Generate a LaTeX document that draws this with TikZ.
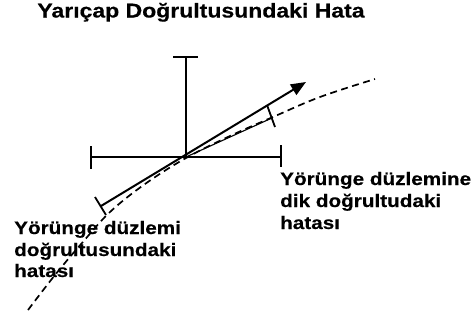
\documentclass[tikz,border=0pt]{standalone}
\usepackage{fontspec}
\newfontfamily\lab[FakeStretch=1.15,BoldFeatures={FakeBold=0.4}]{Liberation Sans}
\usetikzlibrary{arrows.meta}
\begin{document}
\begin{tikzpicture}[x=1pt,y=-1pt,
  axis/.style={line width=2pt},
  vec/.style={line width=2pt},
  tickmark/.style={line width=1.8pt},
  orbit/.style={line width=1.7pt,dash pattern=on 7pt off 4.5pt},
  chord/.style={line width=1.1pt},
  txt/.style={font=\lab\bfseries\fontsize{18}{21.6}\selectfont,inner sep=0pt,anchor=base west},
  ttl/.style={font=\lab\bfseries\fontsize{20}{24}\selectfont,inner sep=0pt,anchor=base}]
\useasboundingbox (0,0) rectangle (475,322);
% axes
\coordinate (O) at (186,157);
\coordinate (vt) at (186,57);
\coordinate (vtl) at (173,57);
\coordinate (vtr) at (198,57);
\coordinate (hl) at (91,157);
\coordinate (hr) at (281,157);
\coordinate (hlu) at (91,146);
\coordinate (hld) at (91,169);
\coordinate (hru) at (281,145);
\coordinate (hrd) at (281,167);
\draw[axis] (O) -- (vt);
\draw[axis] (vtl) -- (vtr);
\draw[axis] (hl) -- (hr);
\draw[axis] (hlu) -- (hld);
\draw[axis] (hru) -- (hrd);
% orbit (dashed curve)
\draw[orbit] plot[smooth,tension=0.6] coordinates {(28,310) (55,275) (82,243) (110,212) (145,184) (186,158) (230,136) (273,117) (320,97) (375,79)};
% solid vector with arrow
\coordinate (A) at (101,206);
\coordinate (T) at (306,82);
\draw[vec,-{Triangle[length=15pt,width=12pt]}] (A) -- (T);
% ticks
\coordinate (t1a) at (95,197);
\coordinate (t1b) at (106,215);
\draw[tickmark] (t1a) -- (t1b);
\coordinate (t2a) at (267,105);
\coordinate (t2b) at (275,127);
\draw[tickmark] (t2a) -- (t2b);
% chord from centre to orbit point
\coordinate (P) at (272,118);
\draw[chord] (O) -- (P);
% texts
\node[ttl] (title) at (201,17.5) {Yarıçap Doğrultusundaki Hata};
\node[txt] (r1) at (280,185) {Yörünge düzlemine};
\node[txt] (r2) at (280,207) {dik doğrultudaki};
\node[txt] (r3) at (280,229) {hatası};
\node[txt] (l1) at (14,234) {Yörünge düzlemi};
\node[txt] (l2) at (14,256) {doğrultusundaki};
\node[txt] (l3) at (14,277) {hatası};
\end{tikzpicture}
\end{document}
